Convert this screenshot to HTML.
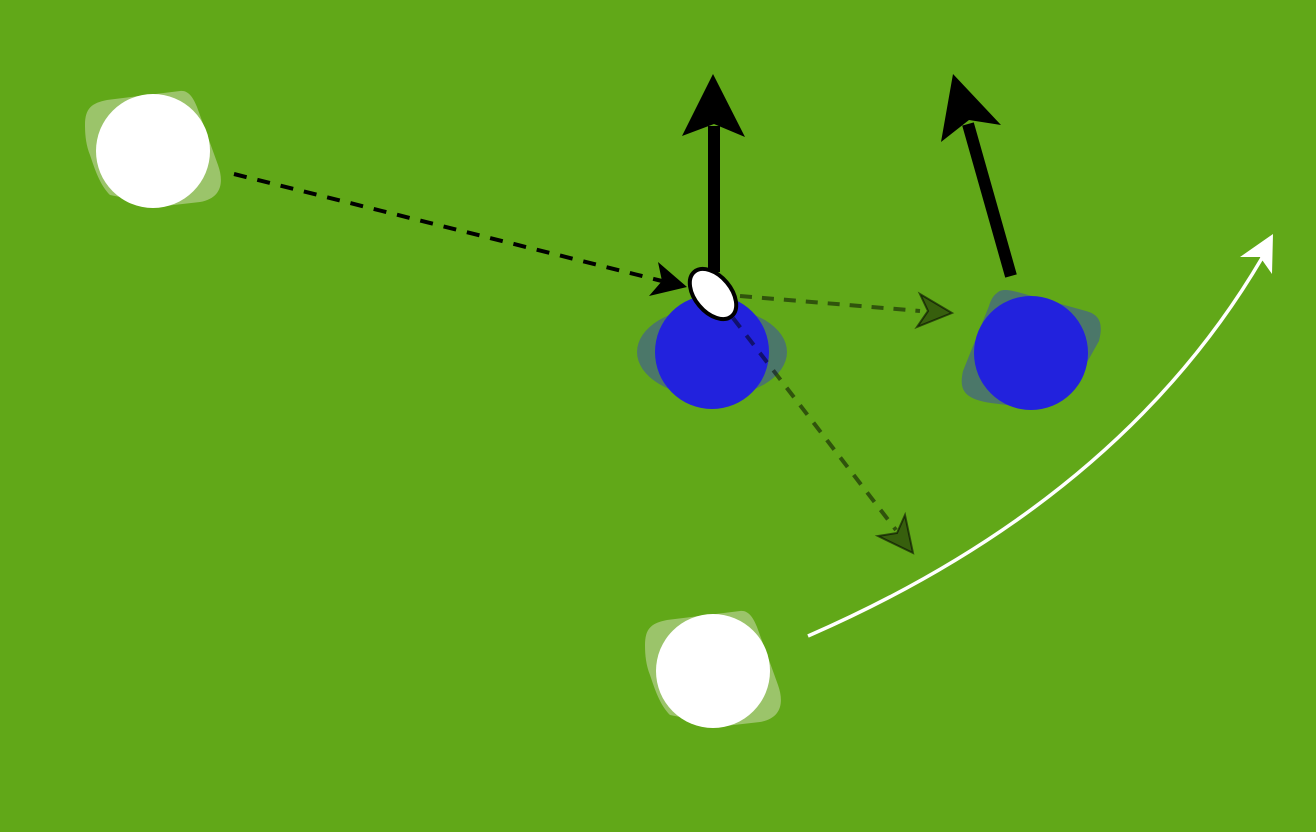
<!DOCTYPE html>
<html>
<head>
<meta charset="utf-8">
<style>
  html, body { margin: 0; padding: 0; background: #61a818; }
  body { width: 1316px; height: 832px; overflow: hidden; }
  svg { display: block; }
</style>
</head>
<body>
<svg width="1316" height="832" viewBox="0 0 1316 832" xmlns="http://www.w3.org/2000/svg">
  <rect x="0" y="0" width="1316" height="832" fill="#61a818"/>

  <!-- White player top-left -->
  <g transform="translate(153,151)">
    <path d="M -68,-26 C -68,-43 -61,-48 -46,-51 L 27,-60 C 35,-61 40,-54 44,-44 L 65,14 C 71,31 69,47 47,51 L 12,55 L -43,44 C -53,34 -58,19 -63,4 C -67,-6 -68,-16 -68,-26 Z" fill="#9bc46a"/>
    <circle cx="0" cy="0" r="57" fill="#ffffff"/>
  </g>

  <!-- White player bottom -->
  <g transform="translate(713,671)">
    <path d="M -68,-26 C -68,-43 -61,-48 -46,-51 L 27,-60 C 35,-61 40,-54 44,-44 L 65,14 C 71,31 69,47 47,51 L 12,55 L -43,44 C -53,34 -58,19 -63,4 C -67,-6 -68,-16 -68,-26 Z" fill="#9bc46a"/>
    <circle cx="0" cy="0" r="57" fill="#ffffff"/>
  </g>

  <!-- Blue player 1 -->
  <ellipse cx="712" cy="352" rx="75" ry="45" fill="#4b7769"/>
  <circle cx="712" cy="352" r="57" fill="#2222dd"/>

  <!-- Blue player 2 -->
  <g transform="translate(1031,353)">
    <path d="M -34,-60 C -30,-64 -24,-64 -10,-60 L 55,-42 C 70,-38 72,-28 68,-12 L 50,20 L 0,55 L -40,50 C -68,46 -72,36 -68,18 L -42,-47 C -40,-54 -37,-58 -34,-60 Z" fill="#4b7769"/>
    <circle cx="0" cy="0" r="57" fill="#2222dd"/>
  </g>

  <!-- Black dashed pass line -->
  <line x1="234" y1="174" x2="662" y2="281" stroke="#000" stroke-width="4" stroke-dasharray="13 11"/>
  <polygon points="687,287 658,262 662,281 649,296" fill="#000"/>

  <!-- Dark dashed option lines -->
  <line x1="740" y1="296" x2="920" y2="311" stroke="#000" stroke-opacity="0.5" stroke-width="4" stroke-dasharray="12 10"/>
  <polygon points="952,313 920,294 928,311 917,327" fill="#000" fill-opacity="0.43" stroke="#000" stroke-opacity="0.55" stroke-width="2" stroke-linejoin="miter"/>

  <line x1="733" y1="318" x2="896" y2="530" stroke="#000" stroke-opacity="0.5" stroke-width="4" stroke-dasharray="12 10"/>
  <polygon points="913,553 905,515 897,533 878,536" fill="#000" fill-opacity="0.43" stroke="#000" stroke-opacity="0.55" stroke-width="2" stroke-linejoin="miter"/>

  <!-- Black run arrows -->
  <line x1="714" y1="272" x2="714" y2="126" stroke="#000" stroke-width="12"/>
  <polygon points="713,74 745,137 714,124 682,136" fill="#000"/>

  <line x1="1011" y1="276" x2="968" y2="124" stroke="#000" stroke-width="12"/>
  <polygon points="953,74 1001,125 969,120 941,142" fill="#000"/>

  <!-- White curved run -->
  <path d="M 808,636 Q 1120,500 1262,258" fill="none" stroke="#fff" stroke-width="3.5"/>
  <polygon points="1273,234 1240,257 1260,257 1272,274" fill="#fff"/>

  <!-- Ball -->
  <ellipse cx="713" cy="294" rx="29" ry="18" transform="rotate(50 713 294)" fill="#fff" stroke="#000" stroke-width="4"/>
</svg>
</body>
</html>
